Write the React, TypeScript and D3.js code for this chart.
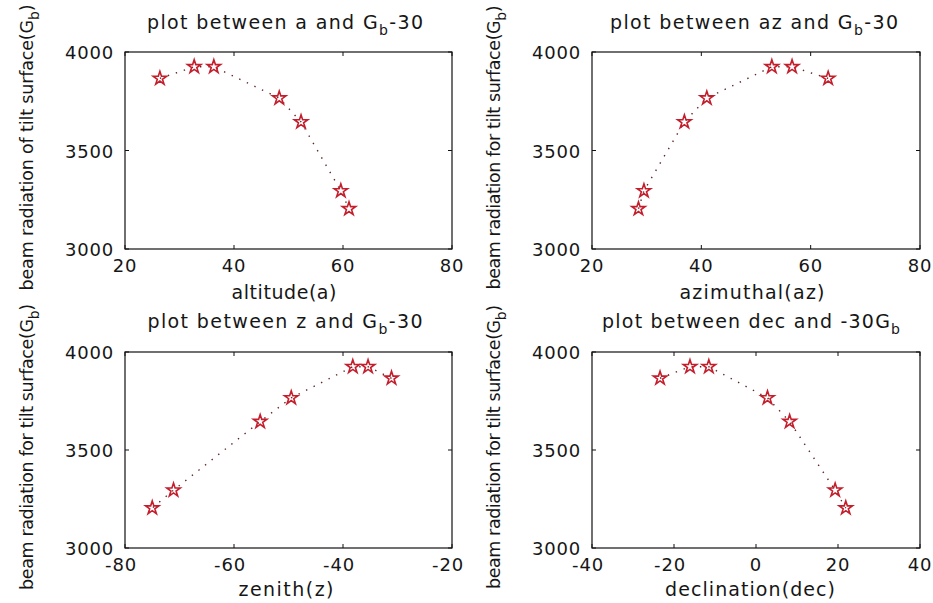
import React from "react";
import * as d3 from "d3";

// Observations, ordered by solar declination
const declination = [-23.4, -16.1, -11.5, 2.8, 8.2, 19.3, 21.9];
const altitude = [26.4, 32.7, 36.3, 48.3, 52.3, 59.6, 61.1];
const azimuthal = [63.2, 56.6, 52.9, 41.0, 36.9, 29.5, 28.5];
const zenith = [-31.1, -35.4, -38.2, -49.5, -55.2, -71.1, -75.0];
const beamTilt = [3866, 3925, 3925, 3766, 3645, 3295, 3204];

const yTicks = [3000, 3500, 4000];
const altTicks = [20, 40, 60, 80];
const azTicks = [20, 40, 60, 80];
const zenTicks = [-80, -60, -40, -20];
const decTicks = [-40, -20, 0, 20, 40];

const FONT = "'DejaVu Sans', Verdana, sans-serif";
const STAR = "#c41e2c";
const DOTS = "#5e2626";

type Part = { t: string; sub?: boolean };

interface PanelProps {
  box: { left: number; right: number; top: number; bottom: number };
  xs: number[];
  ys: number[];
  xTicks: number[];
  title: Part[];
  titleX: number;
  titleY: number;
  titleLen: number;
  xLabel: string;
  xLabelX: number;
  xLabelY: number;
  xLabelLen: number;
  yLabel: Part[];
  yLabelX: number;
  yLabelLen: number;
}

function Parts({ parts }: { parts: Part[] }) {
  let shifted = false;
  return (
    <>
      {parts.map((p, i) => {
        let dy = 0;
        if (p.sub && !shifted) {
          dy = 6;
          shifted = true;
        } else if (!p.sub && shifted) {
          dy = -6;
          shifted = false;
        }
        return (
          <tspan key={i} dy={dy} fontSize={p.sub ? 14 : undefined}>
            {p.t}
          </tspan>
        );
      })}
    </>
  );
}

function Panel(props: PanelProps) {
  const { box, xs, ys, xTicks } = props;
  const x = d3
    .scaleLinear()
    .domain([xTicks[0], xTicks[xTicks.length - 1]])
    .range([box.left, box.right]);
  const y = d3
    .scaleLinear()
    .domain([yTicks[0], yTicks[yTicks.length - 1]])
    .range([box.bottom, box.top]);
  const pts = xs.map((v, i) => [x(v), y(ys[i])] as [number, number]);
  const line = d3.line()(pts) || "";
  const star = d3.symbol().type(d3.symbolStar).size(56)() || "";
  const tl = 4;
  const yMid = (box.top + box.bottom) / 2;

  return (
    <g fontFamily={FONT} fill="#161616">
      <rect
        x={box.left}
        y={box.top}
        width={box.right - box.left}
        height={box.bottom - box.top}
        fill="white"
        stroke="#111"
        strokeWidth={1.2}
      />
      {xTicks.map((t) => (
        <g key={"x" + t}>
          <line x1={x(t)} x2={x(t)} y1={box.bottom} y2={box.bottom - tl} stroke="#111" />
          <line x1={x(t)} x2={x(t)} y1={box.top} y2={box.top + tl} stroke="#111" />
          <text
            x={x(t) + (t < 0 ? -4 : 0)}
            y={box.bottom + 23}
            textAnchor="middle"
            fontSize={18}
            letterSpacing={0.8}
          >
            {t}
          </text>
        </g>
      ))}
      {yTicks.map((t) => (
        <g key={"y" + t}>
          <line x1={box.left} x2={box.left + tl} y1={y(t)} y2={y(t)} stroke="#111" />
          <line x1={box.right} x2={box.right - tl} y1={y(t)} y2={y(t)} stroke="#111" />
          <text
            x={box.left - 11}
            y={y(t) + 7}
            textAnchor="end"
            fontSize={18}
            letterSpacing={0.8}
          >
            {t}
          </text>
        </g>
      ))}
      <path
        d={line}
        fill="none"
        stroke={DOTS}
        strokeWidth={1.4}
        strokeDasharray="1.4,7"
      />
      {pts.map((p, i) => (
        <path
          key={i}
          d={star}
          transform={`translate(${p[0]},${p[1]})`}
          fill="none"
          stroke={STAR}
          strokeWidth={1.6}
        />
      ))}
      <text
        x={props.titleX}
        y={props.titleY}
        textAnchor="middle"
        fontSize={19}
        textLength={props.titleLen}
        lengthAdjust="spacing"
      >
        <Parts parts={props.title} />
      </text>
      <text
        x={props.xLabelX}
        y={props.xLabelY}
        textAnchor="middle"
        fontSize={19}
        textLength={props.xLabelLen}
        lengthAdjust="spacing"
      >
        {props.xLabel}
      </text>
      <text
        transform={`translate(${props.yLabelX},${yMid - 3}) rotate(-90)`}
        textAnchor="middle"
        fontSize={17.5}
        textLength={props.yLabelLen}
        lengthAdjust="spacing"
      >
        <Parts parts={props.yLabel} />
      </text>
    </g>
  );
}

const topBox = (left: number, right: number) => ({ left, right, top: 52, bottom: 249 });
const botBox = (left: number, right: number) => ({ left, right, top: 352, bottom: 548 });

export default function App() {
  return (
    <svg
      width={933}
      height={603}
      style={{ position: "absolute", left: 0, top: 0, background: "white" }}
    >
      <rect width={933} height={603} fill="white" />
      <Panel
        box={topBox(125, 452)}
        xs={altitude}
        ys={beamTilt}
        xTicks={altTicks}
        title={[{ t: "plot between a and G" }, { t: "b", sub: true }, { t: "-30" }]}
        titleX={285}
        titleY={29}
        titleLen={276}
        xLabel="altitude(a)"
        xLabelX={284}
        xLabelY={299}
        xLabelLen={105}
        yLabel={[{ t: "beam radiation of tilt surface(G" }, { t: "b", sub: true }, { t: ")" }]}
        yLabelX={33}
        yLabelLen={286}
      />
      <Panel
        box={topBox(592, 920)}
        xs={azimuthal}
        ys={beamTilt}
        xTicks={azTicks}
        title={[{ t: "plot between az and G" }, { t: "b", sub: true }, { t: "-30" }]}
        titleX={754}
        titleY={29}
        titleLen={288}
        xLabel="azimuthal(az)"
        xLabelX={752}
        xLabelY={299}
        xLabelLen={145}
        yLabel={[{ t: "beam radiation for tilt surface(G" }, { t: "b", sub: true }, { t: ")" }]}
        yLabelX={500}
        yLabelLen={284}
      />
      <Panel
        box={botBox(125, 452)}
        xs={zenith}
        ys={beamTilt}
        xTicks={zenTicks}
        title={[{ t: "plot between z and G" }, { t: "b", sub: true }, { t: "-30" }]}
        titleX={285}
        titleY={328}
        titleLen={275}
        xLabel="zenith(z)"
        xLabelX={286}
        xLabelY={596}
        xLabelLen={95}
        yLabel={[{ t: "beam radiation for tilt surface(G" }, { t: "b", sub: true }, { t: ")" }]}
        yLabelX={33}
        yLabelLen={286}
      />
      <Panel
        box={botBox(592, 920)}
        xs={declination}
        ys={beamTilt}
        xTicks={decTicks}
        title={[{ t: "plot between dec and -30G" }, { t: "b", sub: true }]}
        titleX={751}
        titleY={328}
        titleLen={298}
        xLabel="declination(dec)"
        xLabelX={750}
        xLabelY={596}
        xLabelLen={170}
        yLabel={[{ t: "beam radiation for tilt surface(G" }, { t: "b", sub: true }, { t: ")" }]}
        yLabelX={500}
        yLabelLen={284}
      />
    </svg>
  );
}
